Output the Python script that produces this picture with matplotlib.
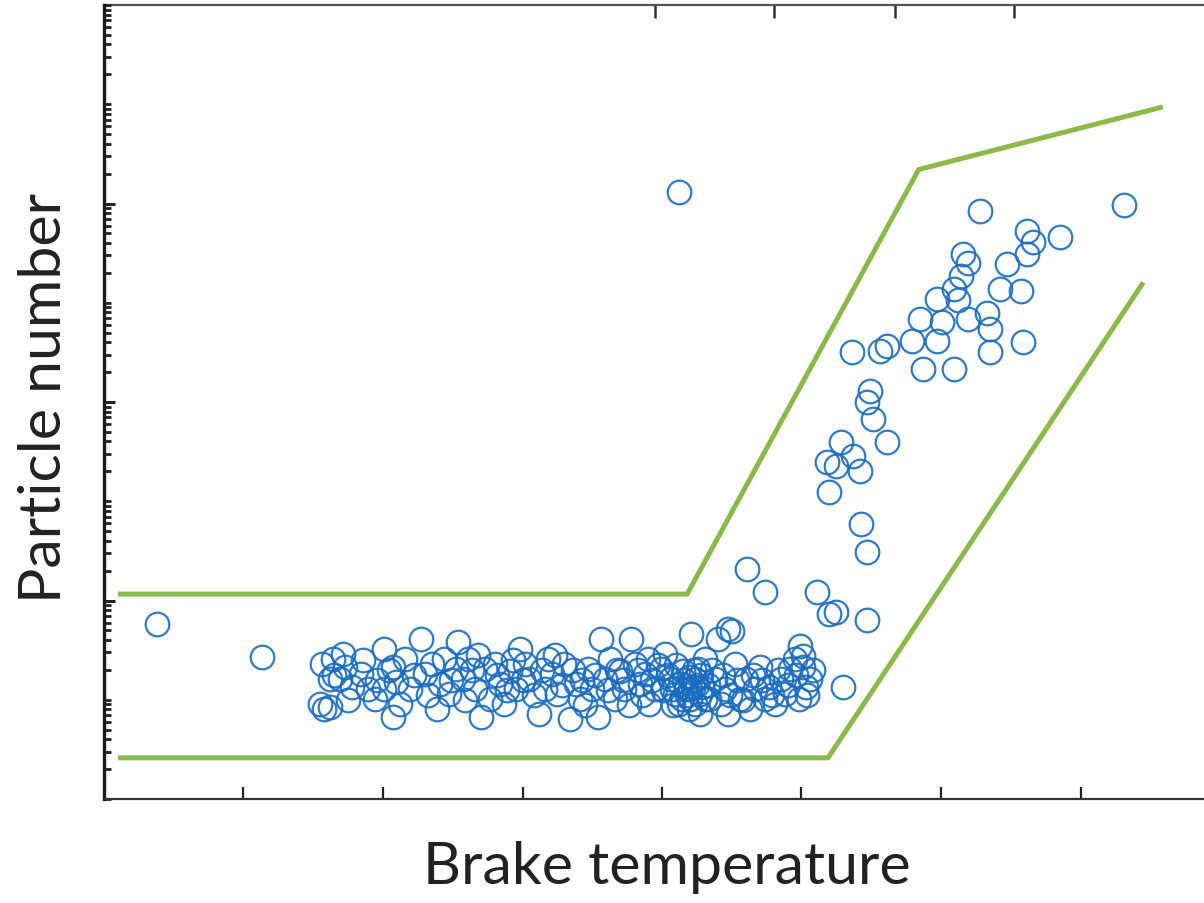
import numpy as np
import matplotlib
matplotlib.use("Agg")
import matplotlib.pyplot as plt
from matplotlib.ticker import LogLocator, NullFormatter

# Brake temperature (arbitrary units) and log10 of particle number for each sample
temperature = [
    155, 158, 162, 156, 164, 171, 173, 169, 178, 162, 184, 189, 194, 201, 207,
    209, 207, 212, 201, 216, 219, 227, 230, 235, 239, 241, 244, 247, 252, 254,
    257, 261, 266, 270, 273, 277, 280, 284, 287, 291, 295, 298, 302, 305, 312,
    316, 318, 321, 325, 330, 334, 338, 341, 347, 350, 356, 354, 359, 363, 366,
    370, 373, 378, 381, 384, 388, 391, 390, 395, 399, 402, 406, 409, 413, 414,
    419, 420, 421, 424, 426, 427, 429, 431, 434, 438, 440, 442, 445, 447, 450,
    452, 456, 460, 463, 467, 470, 474, 477, 481, 485, 488, 492, 495, 501, 503,
    506, 498, 417, 420, 424, 427, 419, 412, 415, 422, 431, 407,
    165, 175, 186, 196, 204, 222, 232, 249, 259, 264, 268, 282, 289, 293, 300,
    308, 314, 323, 328, 336, 343, 345, 352, 361, 368, 372, 376, 383, 386, 393,
    397, 401, 404, 408, 410, 416, 418, 423, 425, 428, 433, 436, 444, 449, 454,
    458, 465, 472, 479, 483, 490, 496, 504, 508,
    38, 113, 412, 731, 628, 685, 662, 666, 662, 647, 616, 619, 614, 642, 657,
    597, 609, 612, 633, 585, 601, 619, 635, 659, 579, 597, 635, 587, 609, 561,
    536, 556, 549, 547, 551, 561, 528, 518, 525, 537, 542, 520, 543, 547, 547,
    530, 461, 474, 511, 520, 525, 499, 501, 447,
]
pn_log10 = [
    0.96, 0.91, 0.93, 1.36, 1.41, 1.46, 1.33, 1.21, 1.13, 1.21, 1.26, 1.11, 1.01, 1.51, 1.33,
    1.18, 0.83, 0.96, 1.11, 1.41, 1.11, 1.61, 1.26, 1.36, 0.91, 1.16, 1.41, 1.06, 1.31, 1.58,
    1.21, 1.41, 1.11, 0.83, 1.31, 1.01, 1.36, 1.16, 0.96, 1.29, 1.11, 1.51, 1.36, 1.21, 0.86,
    1.11, 1.41, 1.26, 1.06, 1.36, 0.81, 1.16, 1.01, 1.31, 1.11, 1.61, 0.83, 1.21, 1.41, 1.01,
    1.29, 1.11, 1.61, 1.36, 1.16, 1.26, 0.96, 1.41, 1.11, 1.31, 1.46, 1.21, 1.06, 1.16, 1.01,
    1.23, 1.11, 1.66, 0.96, 1.31, 0.86, 1.13, 1.41, 1.01, 1.21, 1.61, 0.96, 1.11, 0.86, 1.69,
    1.36, 1.01, 1.21, 0.91, 1.11, 1.33, 1.01, 1.13, 0.96, 1.21, 1.06, 1.31, 1.41, 1.33, 1.13,
    1.21, 1.01, 1.11, 1.01, 1.21, 1.06, 0.91, 0.96, 1.29, 1.13, 1.01, 1.11,
    1.25, 1.00, 1.40, 1.20, 1.30, 1.25, 1.05, 1.20, 1.00, 1.30, 1.45, 1.25, 1.10, 1.40, 1.20,
    1.05, 1.30, 1.45, 1.15, 1.30, 1.20, 0.95, 1.25, 1.10, 1.30, 1.20, 0.95, 1.30, 1.05, 1.20,
    1.35, 1.10, 1.25, 0.95, 1.35, 1.20, 1.05, 1.30, 1.15, 1.25, 1.15, 1.30, 1.25, 1.05, 1.20,
    1.00, 1.25, 1.20, 1.05, 1.30, 1.15, 1.25, 1.05, 1.30,
    1.76, 1.43, 6.12, 5.98, 5.92, 5.66, 5.72, 5.61, 5.49, 5.39, 5.49, 5.40, 5.27, 5.14, 5.12,
    5.04, 5.14, 5.03, 4.90, 4.84, 4.81, 4.84, 4.74, 4.60, 4.61, 4.61, 4.50, 4.33, 4.33, 4.56,
    4.50, 4.51, 4.11, 4.00, 3.83, 3.60, 3.60, 3.40, 3.36, 3.46, 3.30, 3.09, 2.77, 2.49, 1.80,
    1.13, 2.32, 2.09, 2.09, 1.86, 1.88, 1.54, 1.44, 1.71,
]

# Envelope around the data
upper_t = [10, 418, 584, 759]
upper_pn = [116, 116, 2.2e6, 9.4e6]
lower_t = [10, 519, 745]
lower_pn = [2.6, 2.6, 1.6e5]

top_ticks = [395, 480, 567, 652]

fig = plt.figure(figsize=(12.04, 9.04), dpi=100)
ax = fig.add_axes([104 / 1204, 104 / 904, 1116 / 1204, 794 / 904])

ax.plot(upper_t, upper_pn, color="#8cba4a", lw=3.6, solid_capstyle="butt")
ax.plot(lower_t, lower_pn, color="#8cba4a", lw=3.6, solid_capstyle="butt")
ax.plot(temperature, 10 ** np.array(pn_log10), "o", ms=17, mfc="none",
        mec="#1a6cc0", mew=1.6, alpha=0.9)

ax.set_yscale("log")
ax.set_xlim(0, 800)
ax.set_ylim(1, 1e8)

ax.set_xticks(range(100, 800, 100))
ax.set_yticks([1e2, 1e4, 1e6])
ax.yaxis.set_minor_locator(LogLocator(base=10, subs=np.arange(1, 10), numticks=50))
ax.yaxis.set_minor_formatter(NullFormatter())
ax.tick_params(axis="both", which="both", direction="in", labelbottom=False,
               labelleft=False, colors="#222222")
ax.tick_params(axis="x", which="major", length=9, width=1.6)
ax.tick_params(axis="y", which="major", length=8, width=2.2)
ax.tick_params(axis="y", which="minor", length=5, width=2.0)

sec = ax.secondary_xaxis("top")
sec.set_xticks(top_ticks)
sec.tick_params(direction="in", length=9, width=1.8, labeltop=False, colors="#333333")
sec.spines["top"].set_color("#555555")
sec.spines["top"].set_linewidth(1.6)

ax.spines["right"].set_visible(False)
ax.spines["top"].set_visible(False)
ax.spines["left"].set_linewidth(2.4)
ax.spines["left"].set_color("#1a1a1a")
ax.spines["bottom"].set_linewidth(1.6)
ax.spines["bottom"].set_color("#333333")

fig.text(667 / 1204, 1 - 868 / 904, "Brake temperature", fontsize=42.5,
         family="Lato", color="#222222", ha="center", va="center")
fig.text(45 / 1204, 1 - 398 / 904, "Particle number", fontsize=42.5,
         family="Lato", color="#222222", ha="center", va="center", rotation=90)

fig.savefig("out.png", dpi=100)
